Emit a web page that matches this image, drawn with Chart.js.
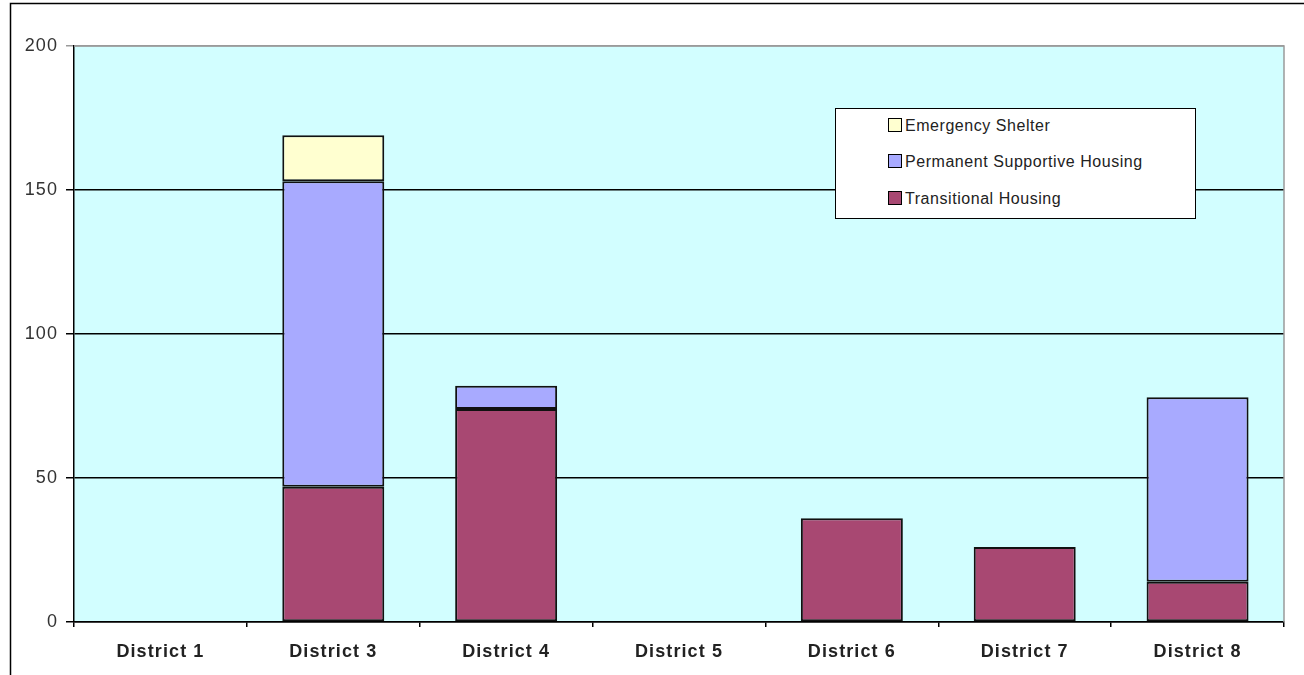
<!DOCTYPE html>
<html>
<head>
<meta charset="utf-8">
<script src="https://cdn.jsdelivr.net/npm/chart.js@4/dist/chart.umd.min.js"></script>
<style>
  html, body { margin:0; padding:0; background:#fff; }
  #wrap { position:relative; width:1304px; height:675px; overflow:hidden; }
  #grafica { position:absolute; left:0; top:0; }
  #leyenda {
    position:absolute; left:835px; top:108px; width:359px; height:109px;
    background:#fff; border:1.5px solid #000;
    font-family:"Liberation Sans", Arial, sans-serif; font-size:16px; color:#222;
  }
  #leyenda .item { position:absolute; left:52px; height:16px; line-height:16px; white-space:nowrap; letter-spacing:0.55px; }
  #leyenda .cuadro { display:inline-block; width:12px; height:12px; border:1.5px solid #000; vertical-align:-1px; margin-right:3px; }
</style>
</head>
<body>
<div id="wrap">
  <canvas id="grafica" width="1304" height="675"></canvas>
  <div id="leyenda"></div>
</div>
<script>
// datos
var distritos = ["District 1", "District 3", "District 4", "District 5", "District 6", "District 7", "District 8"];
var transicional = [0, 47, 74, 0, 36, 26, 14];
var permanente   = [0, 106, 8, 0, 0, 0, 64];
var emergencia   = [0, 16, 0, 0, 0, 0, 0];
var ticksY = [0, 50, 100, 150, 200];

var colorTransicional = '#A84872';
var colorPermanente   = '#A8AAFF';
var colorEmergencia   = '#FFFFD0';

//--fondo, marco y borde del area de trazado
var fondoPlugin = {
    id: 'fondo',
    beforeDraw: function(chart){
        var ctx = chart.ctx;
        var a = chart.chartArea;
        ctx.save();
        ctx.fillStyle = '#fff';
        ctx.fillRect(0, 0, chart.width, chart.height);
        ctx.fillStyle = '#D2FEFF';
        ctx.fillRect(a.left, a.top, a.right - a.left, a.bottom - a.top);
        // marco exterior
        ctx.strokeStyle = '#000';
        ctx.lineWidth = 1.5;
        ctx.beginPath();
        ctx.moveTo(10.5, 700);
        ctx.lineTo(10.5, 3.5);
        ctx.lineTo(1310, 3.5);
        ctx.stroke();
        ctx.restore();
        // texto algo espaciado como en el original
        ctx.letterSpacing = '1.1px';
    },
    afterDatasetsDraw: function(chart){
        var ctx = chart.ctx;
        var a = chart.chartArea;
        ctx.save();
        ctx.strokeStyle = '#9a9a9a';
        ctx.lineWidth = 1.5;
        ctx.beginPath();
        ctx.moveTo(a.left, a.top);
        ctx.lineTo(a.right, a.top);
        ctx.lineTo(a.right, a.bottom);
        ctx.stroke();
        ctx.restore();
    }
};

var canvas = document.getElementById("grafica");

var datos = {
    labels: distritos,
    datasets: [{
        label: 'Transitional Housing',
        data: transicional,
        backgroundColor: colorTransicional,
        borderColor: '#111',
        borderWidth: 2,
        borderSkipped: false
    },{
        label: 'Permanent Supportive Housing',
        data: permanente,
        backgroundColor: colorPermanente,
        borderColor: '#111',
        borderWidth: 2,
        borderSkipped: false
    },{
        label: 'Emergency Shelter',
        data: emergencia,
        backgroundColor: colorEmergencia,
        borderColor: '#111',
        borderWidth: 2,
        borderSkipped: false
    }]
};

var opciones = {
    responsive: false,
    animation: false,
    events: [],
    layout: { padding: { left: 0, right: 20, top: 46, bottom: 0 } },
    datasets: { bar: { categoryPercentage: 1, barPercentage: 0.59 } },
    plugins: {
        legend: { display: false },
        tooltip: { enabled: false }
    },
    scales: {
        x: {
            stacked: true,
            grid: { offset: true, drawOnChartArea: false, color: '#000', tickLength: 5, lineWidth: 1.5 },
            border: { color: '#000', width: 1.5 },
            ticks: {
                color: '#222',
                padding: 14,
                font: { family: '"Liberation Sans", Arial, sans-serif', size: 18, weight: 'bold' }
            },
            afterFit: function(scale){ scale.height = 53; }
        },
        y: {
            stacked: true,
            min: 0,
            max: 200,
            afterBuildTicks: function(scale){
                scale.ticks = ticksY.map(function(v){ return {value: v}; });
            },
            grid: {
                color: function(c){ return c.tick && c.tick.value == 200 ? '#9a9a9a' : '#000'; },
                lineWidth: 1.5,
                tickLength: 8
            },
            border: { color: '#000', width: 1.5 },
            ticks: {
                color: '#333',
                padding: 8,
                font: { family: '"Liberation Sans", Arial, sans-serif', size: 18 }
            },
            afterFit: function(scale){ scale.width = 74; }
        }
    }
};

var barChart = new Chart(canvas, {
    type: 'bar',
    data: datos,
    options: opciones,
    plugins: [fondoPlugin]
});

//--leyenda en html (orden inverso al apilado)
var leyenda = document.getElementById("leyenda");
var posiciones = [9, 45, 82];
var items = datos.datasets.slice().reverse();
items.forEach(function(ds, i){
    var div = document.createElement("div");
    div.className = "item";
    div.style.top = posiciones[i] + "px";
    div.innerHTML = "<span class='cuadro' style='background:" + ds.backgroundColor + "'></span>" + ds.label;
    leyenda.appendChild(div);
});
</script>
</body>
</html>
